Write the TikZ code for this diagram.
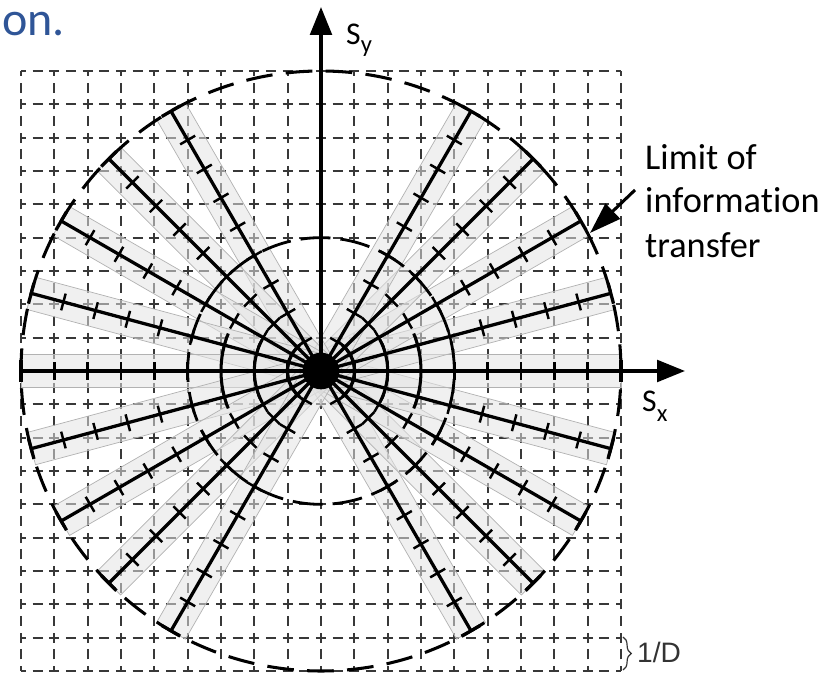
\documentclass[tikz,border=0pt]{standalone}
\usepackage{fontspec}
\setmainfont[Ligatures=NoCommon,Contextuals=NoAlternate]{Carlito}
\newfontfamily\arialf{Liberation Sans}
\usetikzlibrary{arrows.meta,decorations.pathreplacing,calc}
\definecolor{titleblue}{RGB}{47,85,151}
\begin{document}
\begin{tikzpicture}[x=1cm,y=1cm,
  gridline/.style={black!78, line width=1.5pt, dash pattern=on 3mm off 2mm, dash phase=1.5mm},
  band/.style={fill=black!11, fill opacity=0.55, draw=black!30, line width=0.6pt},
  spoke/.style={black, line width=2.8pt},
  tickmark/.style={black, line width=2.1pt},
  ringarc/.style={black, line width=2.6pt},
  bigcircle/.style={black, line width=2.6pt, dash pattern=on 8mm off 4mm},
  midcircle/.style={black, line width=2.4pt, dash pattern=on 9mm off 3mm},
  axisline/.style={black, line width=3pt, -{Triangle[length=0.84cm,width=0.65cm]}},
  lbl/.style={anchor=base west, inner sep=0pt}
]
\useasboundingbox (-9.63,-9.06) rectangle (15.54,11.13);
\coordinate (O) at (0,0);
% grid
\foreach \i in {-9,...,9} {
  \draw[gridline] (\i,-9) -- (\i,9);
  \draw[gridline] (-9,\i) -- (9,\i);
}
% bands
\foreach \a in {-60,-45,...,60,120,135,...,240} {
  \path[band, rotate=\a] (0,-0.5) rectangle (9,0.5);
}
% spokes, caps, ticks
\foreach \a in {-60,-45,...,60,120,135,...,240} {
  \coordinate (e\a) at (\a:9);
  \draw[spoke] (O) -- (e\a);
  \draw[spoke, rotate=\a] (9,-0.32) -- (9,0.32);
  \foreach \r in {1,...,8} {
    \draw[tickmark, rotate=\a] (\r,-0.26) -- (\r,0.26);
  }
}
% rings near centre
\foreach \s in {0,180} {
  \draw[ringarc] (\s-50:1) arc[start angle=\s-50, end angle=\s+50, radius=1];
  \draw[ringarc] (\s-28:2) arc[start angle=\s-28, end angle=\s+28, radius=2];
  \draw[ringarc] (\s-22:3) arc[start angle=\s-22, end angle=\s+22, radius=3];
}
\fill (O) circle[radius=0.55];
\draw[midcircle] (O) circle[radius=4];
\draw[bigcircle] (O) circle[radius=9];
% axes
\coordinate (xl) at (-9,0);
\coordinate (xr) at (10.92,0);
\coordinate (yt) at (0,10.92);
\draw[axisline] (xl) -- (xr);
\draw[axisline] (O) -- (yt);
% labels
\node[lbl, font=\fontsize{27}{27}\selectfont] (sy) at (0.75,9.78) {S\raisebox{-6pt}{\fontsize{21}{21}\selectfont y}};
\node[lbl, font=\fontsize{27}{27}\selectfont] (sx) at (9.63,-1.23) {S\raisebox{-8pt}{\fontsize{21}{21}\selectfont x}};
\node[lbl, font=\fontsize{31}{31}\selectfont] (l1) at (9.72,6.03) {Limit of};
\node[lbl, font=\fontsize{31}{31}\selectfont] (l2) at (9.72,4.74) {informa\kern0pt tion};
\node[lbl, font=\fontsize{31}{31}\selectfont] (l3) at (9.72,3.39) {transfer};
\coordinate (atail) at (9.42,5.43);
\coordinate (ahead) at (8.07,4.14);
\draw[line width=2.6pt, -{Triangle[length=0.95cm,width=0.62cm]}] (atail) -- (ahead);
% 1/D
\coordinate (bt) at (9.06,-7.98);
\coordinate (bb) at (9.06,-8.97);
\draw[black!80, line width=1pt, decorate, decoration={brace, amplitude=7pt}] (bt) -- (bb);
\node[lbl, font=\arialf\fontsize{24}{24}\selectfont, text=black!80] (oneD) at (9.48,-8.76) {1/D};
% title fragment
\node[lbl, font=\fontsize{41}{41}\selectfont, text=titleblue] (title) at (-9.57,10.05) {on.};
\end{tikzpicture}
\end{document}
